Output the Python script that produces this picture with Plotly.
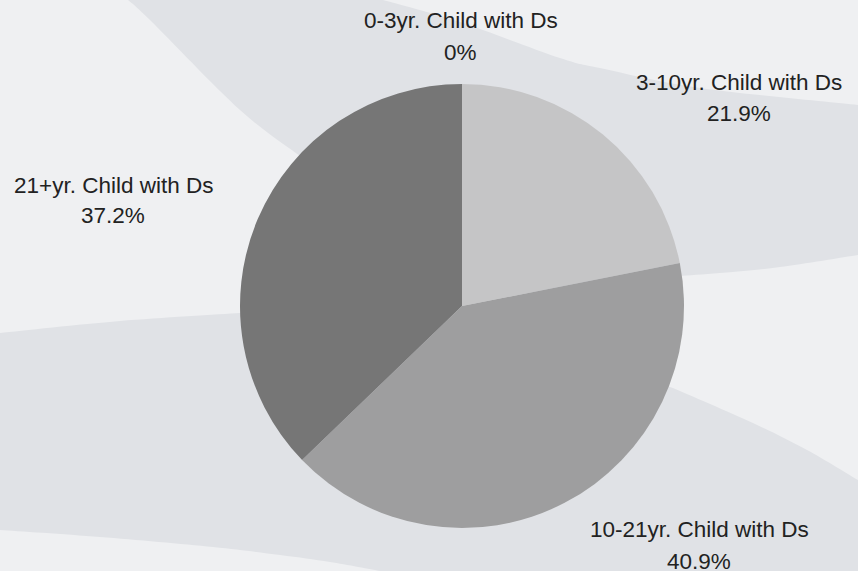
import plotly.graph_objects as go

# ---- data ----
categories = ["0-3yr. Child with Ds", "3-10yr. Child with Ds",
              "10-21yr. Child with Ds", "21+yr. Child with Ds"]
values = [0, 21.9, 40.9, 37.2]
slice_colors = ["#d8d8d8", "#c5c5c6", "#9e9e9f", "#767676"]

W, H = 858, 571
BG = "#eff0f2"
BAND = "#e0e2e6"
TEXT = "#222222"
FONT = "Liberation Sans, Arial, sans-serif"
FS = 22.5


def px(x, y):
    return f"{x / W:.5f},{1 - y / H:.5f}"


def smooth(points, start=True):
    """Catmull-Rom -> cubic bezier path segment through pixel points."""
    out = []
    if start:
        out.append("M " + px(*points[0]))
    else:
        out.append("L " + px(*points[0]))
    n = len(points)
    for i in range(n - 1):
        p0 = points[i - 1] if i > 0 else points[i]
        p1 = points[i]
        p2 = points[i + 1]
        p3 = points[i + 2] if i + 2 < n else points[i + 1]
        c1 = (p1[0] + (p2[0] - p0[0]) / 6, p1[1] + (p2[1] - p0[1]) / 6)
        c2 = (p2[0] - (p3[0] - p1[0]) / 6, p2[1] - (p3[1] - p1[1]) / 6)
        out.append(f"C {px(*c1)} {px(*c2)} {px(*p2)}")
    return " ".join(out)


top_path = " ".join([
    smooth([(128, 0), (150, 20), (240, 110), (300, 156)]),
    "L " + px(462, 300),
    smooth([(680, 276), (720, 273), (780, 267), (858, 255)], start=False),
    "L " + px(858, 105),
    smooth([(858, 105), (700, 88), (600, 68), (560, 58), (460, 22), (383, 0)], start=False),
    "Z",
])

bottom_path = " ".join([
    smooth([(0, 333), (120, 321), (240, 313)]),
    "L " + px(462, 320),
    smooth([(673, 388), (753, 423), (807, 450), (858, 480)], start=False),
    "L " + px(858, 571),
    smooth([(380, 571), (330, 562), (280, 555), (213, 547), (100, 537), (0, 530)], start=False),
    "Z",
])

fig = go.Figure()
fig.add_trace(go.Pie(
    labels=categories,
    values=values,
    sort=False,
    direction="clockwise",
    rotation=0,
    marker=dict(colors=slice_colors, line=dict(width=0)),
    textinfo="none",
    hoverinfo="label+percent",
    showlegend=False,
    domain=dict(x=[(462 - 222) / W, (462 + 222) / W],
                y=[1 - 528 / H, 1 - 84 / H]),
))

fig.update_layout(
    width=W, height=H,
    margin=dict(l=0, r=0, t=0, b=0),
    paper_bgcolor=BG,
    plot_bgcolor=BG,
    shapes=[
        dict(type="path", xref="paper", yref="paper", path=top_path,
             fillcolor=BAND, line=dict(width=0), layer="below"),
        dict(type="path", xref="paper", yref="paper", path=bottom_path,
             fillcolor=BAND, line=dict(width=0), layer="below"),
    ],
)

# label placement (pixel centres of the two text lines)
label_pos = [(461, 20, 52), (739, 83, 114), (699, 529, 561), (113, 185, 216)]
total = sum(values)
for cat, val, (cx, y1, y2) in zip(categories, values, label_pos):
    pct = val / total * 100
    pct_txt = f"{pct:.1f}".rstrip("0").rstrip(".") + "%"
    for txt, yy in ((cat, y1), (pct_txt, y2)):
        fig.add_annotation(
            x=cx / W, y=1 - yy / H, xref="paper", yref="paper",
            text=txt, showarrow=False, xanchor="center", yanchor="middle",
            font=dict(family=FONT, size=FS, color=TEXT),
        )

fig.write_html("out.html")
